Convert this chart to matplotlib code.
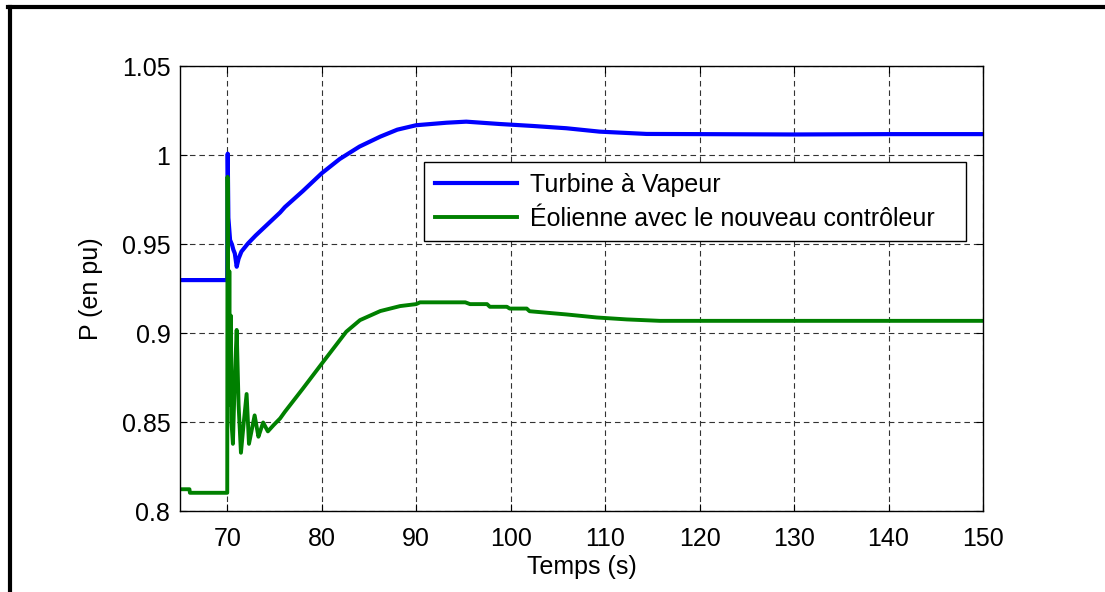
import matplotlib
matplotlib.use("Agg")
import matplotlib.pyplot as plt
from matplotlib.lines import Line2D

# Turbine à vapeur (bleu)
t_blue = [65, 70.0, 70.05, 70.12, 70.3, 70.5, 70.65, 70.8, 71.0, 71.2, 71.5,
          72.2, 73.0, 74.0, 75.6, 76.1, 78, 80, 81.9, 84, 86.2, 88, 90, 93.2,
          95.3, 98.8, 102.3, 105.9, 109.4, 114.4, 120, 130, 140, 150]
p_blue = [0.93, 0.93, 1.001, 0.965, 0.9525, 0.950, 0.947, 0.945, 0.9375, 0.942,
          0.946, 0.9506, 0.955, 0.960, 0.968, 0.971, 0.980, 0.990, 0.998, 1.005,
          1.0106, 1.0145, 1.017, 1.0184, 1.019, 1.0177, 1.0166, 1.0153, 1.0134,
          1.0121, 1.012, 1.0118, 1.012, 1.012]

# Eolienne avec le nouveau controleur (vert)
t_green = [65, 66, 66.05, 70.0, 70.03, 70.08, 70.15, 70.22, 70.3, 70.38, 70.45,
           70.6, 70.8, 71.0, 71.2, 71.45, 71.75, 72.05, 72.3, 72.6, 72.9, 73.3,
           73.55, 73.8, 74.3, 74.9, 75.6, 76.1, 78, 80, 82.6, 84.05, 86.2, 88.3,
           90, 90.4, 95.2, 95.7, 97.5, 97.8, 99.6, 99.9, 101.7, 102, 103.1,
           105.9, 109.1, 112.3, 115.8, 150]
p_green = [0.8125, 0.8125, 0.8105, 0.8105, 0.988, 0.93, 0.875, 0.935, 0.86,
           0.91, 0.85, 0.838, 0.875, 0.902, 0.86, 0.833, 0.85, 0.866, 0.838,
           0.846, 0.854, 0.842, 0.846, 0.85, 0.845, 0.8485, 0.8523, 0.856, 0.869,
           0.883, 0.901, 0.9075, 0.9126, 0.9154, 0.9165, 0.9175, 0.9175, 0.9165,
           0.9165, 0.915, 0.915, 0.914, 0.914, 0.9125, 0.912, 0.9107, 0.909,
           0.9079, 0.9071, 0.9071]

x_ticks = [70, 80, 90, 100, 110, 120, 130, 140, 150]
y_ticks = [0.8, 0.85, 0.9, 0.95, 1.0, 1.05]
y_tick_labels = ["0.8", "0.85", "0.9", "0.95", "1", "1.05"]

plt.rcParams["font.family"] = ["Liberation Sans", "DejaVu Sans"]
plt.rcParams["font.size"] = 18


def main():
    fig = plt.figure(figsize=(11.05, 5.92), dpi=100)
    ax = fig.add_axes([0.1629, 0.136, 0.7267, 0.7517])

    ax.plot(t_blue, p_blue, color=(0, 0, 1), lw=3.0,
            label="Turbine à Vapeur")
    ax.plot(t_green, p_green, color=(0, 0.5, 0), lw=2.8,
            label="Éolienne avec le nouveau contrôleur")

    ax.set_xlim(65, 150)
    ax.set_ylim(0.8, 1.05)
    ax.set_xticks(x_ticks)
    ax.set_yticks(y_ticks)
    ax.set_yticklabels(y_tick_labels)
    ax.tick_params(direction="in", length=5, width=0.8, top=True, right=True,
                   labelsize=18)
    ax.tick_params(axis="x", pad=11)
    ax.tick_params(axis="y", pad=7)
    for s in ax.spines.values():
        s.set_linewidth(1.0)
        s.set_color("black")

    ax.grid(True, color="#333333", lw=0.8, linestyle=(0, (5, 3.5)))

    ax.set_xlabel("Temps (s)", labelpad=3)
    ax.set_ylabel("P (en pu)", labelpad=13)

    leg = ax.legend(loc="upper left", bbox_to_anchor=(0.304, 0.615, 0.675, 0.170),
                    mode="expand", borderaxespad=0, fancybox=False,
                    edgecolor="black", framealpha=1, handlelength=3.3,
                    handletextpad=0.5, labelspacing=0.4, borderpad=0.42,
                    fontsize=18)
    leg.get_frame().set_linewidth(1.0)

    # cadre partiel (haut et gauche)
    fig.add_artist(Line2D([0.0075, 1.0], [0.9885, 0.9885], color="black",
                          lw=3.0, transform=fig.transFigure))
    fig.add_artist(Line2D([0.0090, 0.0090], [0.0, 0.9885], color="black",
                          lw=3.0, transform=fig.transFigure))

    fig.savefig("out.png", dpi=100, facecolor="white")


if __name__ == "__main__":
    main()
